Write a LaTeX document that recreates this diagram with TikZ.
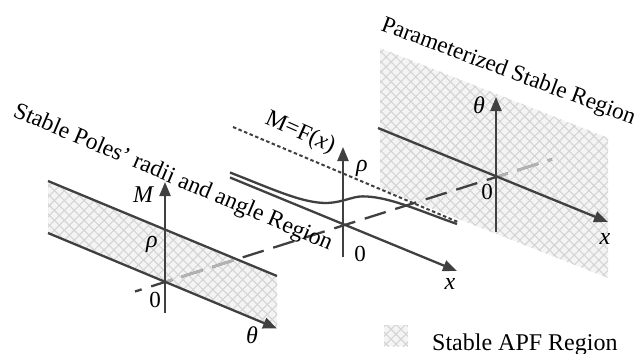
\documentclass[tikz,border=0pt]{standalone}
\usepackage{fontspec}
\setmainfont{Liberation Serif}
\usetikzlibrary{arrows.meta,patterns.meta}
\definecolor{ink}{RGB}{64,64,64}
\definecolor{hatchbg}{RGB}{244,244,244}
\definecolor{hatchln}{RGB}{212,212,212}
\definecolor{hiddenln}{RGB}{178,178,178}
\begin{document}
\begin{tikzpicture}[x=1pt,y=-1pt,
  axisln/.style={draw=ink, line width=2.3pt},
  arr/.style={axisln, -{Triangle[length=14pt,width=11pt]}},
  hatch/.style={fill=hatchbg,
    postaction={pattern={Lines[angle=45,distance=7pt,line width=1.1pt]}, pattern color=hatchln},
    postaction={pattern={Lines[angle=-45,distance=7pt,line width=1.1pt]}, pattern color=hatchln}},
  longdash/.style={line width=2.3pt, dash pattern=on 22pt off 10pt, dash phase=15pt},
  lbl/.style={inner sep=0pt, font=\fontsize{24}{28}\selectfont\itshape},
  num/.style={inner sep=0pt, font=\fontsize{23}{28}\selectfont},
  title/.style={inner sep=0pt, font=\fontsize{23.6}{28}\selectfont, anchor=base west}]
\useasboundingbox (0,0) rectangle (641,354);

% coordinates
\coordinate (LO) at (165,282);
\coordinate (MO) at (343,224.5);
\coordinate (RO) at (496,176.5);
\coordinate (DS) at (135,291.5);
\coordinate (DE) at (552,159.3);

% hatched regions
\path[hatch] (48,181) -- (277,276) -- (277,328.5) -- (48,233) -- cycle;
\path[hatch] (380,48) -- (608,138) -- (608,278) -- (380,188) -- cycle;
\path[hatch] (384,325) rectangle (408,346);

% long dashed axis through the three origins
\draw[longdash, draw=ink] (DS) -- (DE);
\begin{scope}
  \clip (48,181) -- (277,276) -- (277,328.5) -- (48,233) -- cycle;
  \draw[longdash, draw=hiddenln, line width=2.7pt] (DS) -- (DE);
\end{scope}
\begin{scope}
  \clip (RO) -- (641,0) -- (641,354) -- (496,354) -- cycle;
  \clip (380,48) -- (608,138) -- (608,278) -- (380,188) -- cycle;
  \draw[longdash, draw=hiddenln, line width=2.7pt] (DS) -- (DE);
\end{scope}

% left panel
\coordinate (LBtl) at (48,181);
\coordinate (LBtr) at (277,276);
\coordinate (LBbl) at (48,233);
\coordinate (LBtip) at (277,328.5);
\draw[axisln] (LBtl) -- (LBtr);
\draw[arr] (LBbl) -- (LBtip);
\coordinate (LMb) at (165,313);
\coordinate (LMt) at (165,182);
\draw[arr] (LMb) -- (LMt);

% middle panel
\coordinate (MXs) at (230,177.5);
\coordinate (MXe) at (457,271);
\draw[arr] (MXs) -- (MXe);
\coordinate (MVb) at (343,257);
\coordinate (MVt) at (343,147);
\draw[arr] (MVb) -- (MVt);
\coordinate (Fs) at (230,172.5);
\coordinate (Fe) at (457,224);
\draw[axisln] (Fs) .. controls (275,190) and (308,206) .. (333,202.5)
  .. controls (350,200) and (354,195.5) .. (367,196.5)
  .. controls (392,198) and (420,211) .. (Fe);
\coordinate (Ds) at (233,127);
\coordinate (De) at (458,222);
\draw[draw=ink, line width=2pt, dash pattern=on 3.5pt off 2.5pt] (Ds) -- (De);

% right panel
\coordinate (RXs) at (378,128);
\coordinate (RXe) at (608,222);
\draw[arr] (RXs) -- (RXe);
\coordinate (RVb) at (496,232);
\coordinate (RVt) at (496,97);
\draw[arr] (RVb) -- (RVt);

% labels
\node[lbl] (lM) at (143,195) {M};
\node[lbl] (lrho) at (152,244) {ρ};
\node[num] (l0) at (155,300) {0};
\node[lbl] (ltheta) at (252,335) {θ};
\node[lbl] (mrho) at (362,168) {ρ};
\node[num] (m0) at (360,254) {0};
\node[lbl] (mx) at (450,284) {x};
\node[lbl] (rtheta) at (479,105) {θ};
\node[num] (r0) at (487,192) {0};
\node[lbl] (rx) at (605,239) {x};

% titles
\node[title, rotate=-20.5, font=\fontsize{23.2}{28}\selectfont] (tR) at (380,30) {Parameterized Stable Region};
\node[title, rotate=-23] (tL) at (12,116) {Stable Poles’ radii and angle Region};
\node[title, rotate=-24] (tF) at (264,123) {M=F(\textit{x})};
\node[title, font=\fontsize{24}{28}\selectfont] (leg) at (432,350) {Stable APF Region};
\end{tikzpicture}
\end{document}
